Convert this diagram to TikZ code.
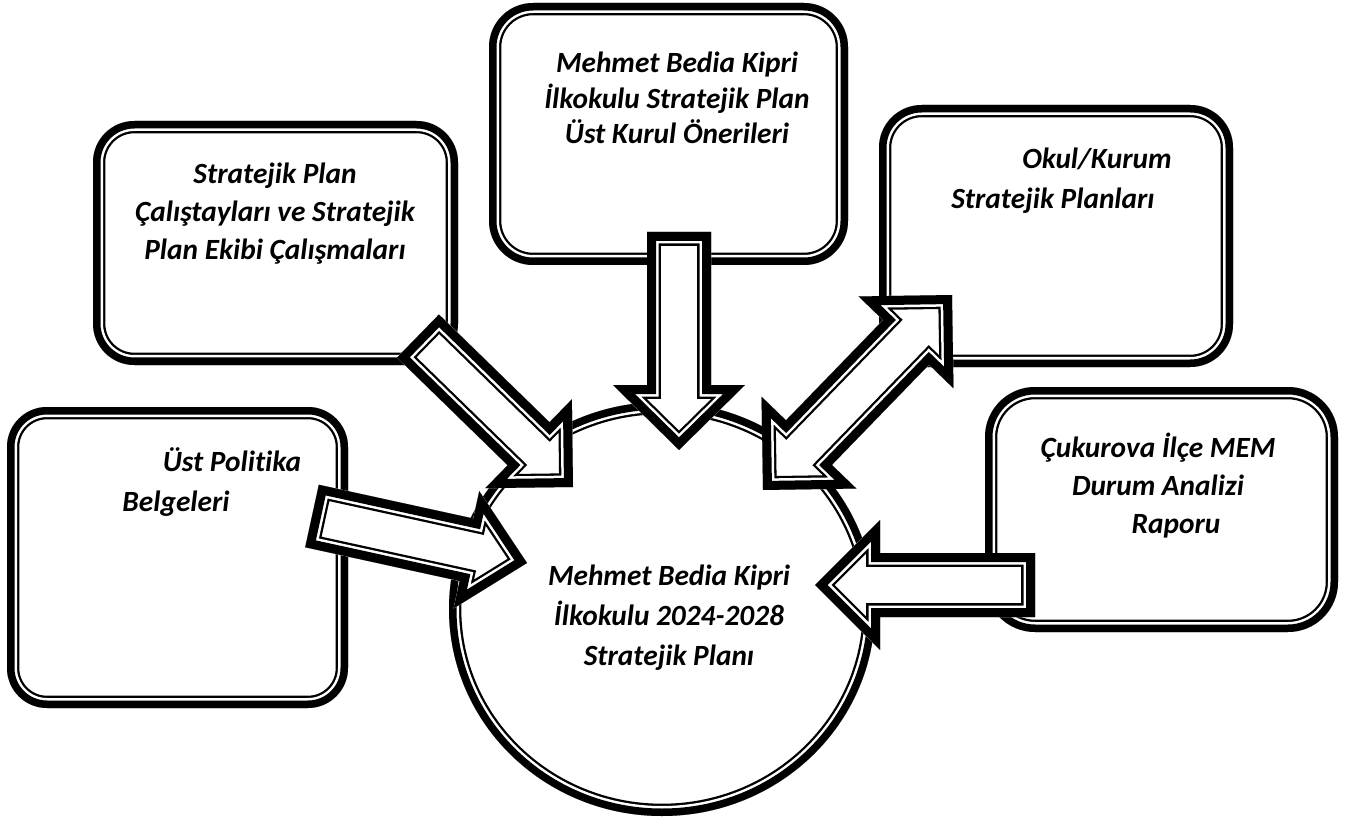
\documentclass[tikz,border=0pt]{standalone}
\usepackage{fontspec}
\setmainfont{Carlito}[Ligatures=NoCommon]
\usetikzlibrary{calc,shapes.geometric}

% thick-thin outline: fill white, then clipped strokes inside the path
\newcommand\ttpath[4]{%
  \fill[white] #1;
  \begin{scope}
    \clip #1;
    \draw[black,line width=#2,line join=miter] #1;
    \draw[white,line width=#3,line join=miter] #1;
    \draw[black,line width=#4,line join=miter] #1;
  \end{scope}}
\newcommand\ttbox[1]{\ttpath{#1}{18.45pt}{15pt}{11.25pt}}

% block arrow: tail, tip, shaft half width, head half width, head length
\newcommand\blockarrow[5]{%
  \coordinate (ab) at ($(#2)!#5!(#1)$);
  \ttpath{($(#1)!#3!90:(#2)$) -- ($(ab)!#3!90:(#2)$) -- ($(ab)!#4!90:(#2)$) -- (#2) -- ($(ab)!#4!-90:(#2)$) -- ($(ab)!#3!-90:(#2)$) -- ($(#1)!#3!-90:(#2)$) -- cycle}{20.7pt}{17.25pt}{13.5pt}}

% double-headed block arrow: tip1, tip2, shaft half width, head half width, head length
\newcommand\doubleblockarrow[5]{%
  \coordinate (da) at ($(#1)!#5!(#2)$);
  \coordinate (db) at ($(#2)!#5!(#1)$);
  \ttpath{($(da)!#3!90:(#2)$) -- ($(db)!#3!90:(#2)$) -- ($(db)!#4!90:(#2)$) -- (#2) -- ($(db)!#4!-90:(#2)$) -- ($(db)!#3!-90:(#2)$) -- ($(da)!#3!-90:(#2)$) -- ($(da)!#4!-90:(#2)$) -- (#1) -- ($(da)!#4!90:(#2)$) -- cycle}{20.7pt}{17.25pt}{13.5pt}}

\tikzset{
  boxn/.style={rectangle,inner sep=0pt,outer sep=0pt},
  txt/.style={inner sep=0pt,align=center,font=\fontsize{22pt}{28.5pt}\selectfont\bfseries\itshape},
}

\begin{document}
\begin{tikzpicture}[x=0.75pt,y=-0.75pt]
\useasboundingbox (0,0) rectangle (1359,823);
\fill[white] (0,0) rectangle (1359,823);

% central circle
\node[ellipse,inner sep=0pt,minimum width=319.5pt,minimum height=310.5pt] (K) at (662,609) {};
\ttbox{(K.center) ellipse [x radius=159.75pt, y radius=155.25pt]}
\node[txt,font=\fontsize{22pt}{30pt}\selectfont\bfseries\itshape] (kt) at (669,618) {Mehmet Bedia Kipri\\İlkokulu 2024-2028\\Stratejik Planı};

% box A
\node[boxn,minimum width=255.75pt,minimum height=225.75pt] (A) at (177.5,557.5) {};
\ttbox{[rounded corners=30pt] (A.south west) rectangle (A.north east)}
\node[txt,font=\fontsize{22pt}{30pt}\selectfont\bfseries\itshape] (at) at (176,482) {\hspace*{84pt}Üst Politika\\Belgeleri};

% box B
\node[boxn,minimum width=273.75pt,minimum height=183pt] (B) at (275.5,243) {};
\ttbox{[rounded corners=31pt] (B.south west) rectangle (B.north east)}
\node[txt] (bt) at (275,214) {Stratejik Plan\\Çalıştayları ve Stratejik\\Plan Ekibi Çalışmaları};

% box C
\node[boxn,minimum width=269.25pt,minimum height=196.5pt] (C) at (668.5,134) {};
\ttbox{[rounded corners=33pt] (C.south west) rectangle (C.north east)}
\node[txt,font=\fontsize{22pt}{26.5pt}\selectfont\bfseries\itshape] (ct) at (677,98) {Mehmet Bedia Kipri\\İlkokulu Stratejik Plan\\Üst Kurul Önerileri};

% box D
\node[boxn,minimum width=265.5pt,minimum height=196.5pt] (D) at (1056,236) {};
\ttbox{[rounded corners=32pt] (D.south west) rectangle (D.north east)}
\node[txt,font=\fontsize{22pt}{30pt}\selectfont\bfseries\itshape] (dt) at (1053,181) {\hspace*{66pt}Okul/Kurum\\Stratejik Planları};

% box E
\node[boxn,minimum width=264.75pt,minimum height=183.75pt] (E) at (1161.5,509.5) {};
\ttbox{[rounded corners=37.5pt] (E.south west) rectangle (E.north east)}
\node[txt] (et) at (1158,486) {Çukurova İlçe MEM\\Durum Analizi\\\hspace*{27pt}Raporu};

% arrows
\coordinate (c1) at (679,232);  \coordinate (k1) at (679,450);
\coordinate (b1) at (418,336);  \coordinate (k2) at (573,487);
\coordinate (a1) at (312,516);  \coordinate (k3) at (527,563);
\coordinate (e1) at (1035,585); \coordinate (k4) at (815,585);
\coordinate (k5) at (763,490);  \coordinate (d1) at (952,295);

\blockarrow{b1}{k2}{22.5pt}{46.5pt}{46.5pt}
\blockarrow{c1}{k1}{24pt}{49.5pt}{48.75pt}
\blockarrow{a1}{k3}{24pt}{45pt}{46.5pt}
\blockarrow{e1}{k4}{24pt}{48.75pt}{48.75pt}
\doubleblockarrow{k5}{d1}{24pt}{49.5pt}{49.5pt}
\end{tikzpicture}
\end{document}
